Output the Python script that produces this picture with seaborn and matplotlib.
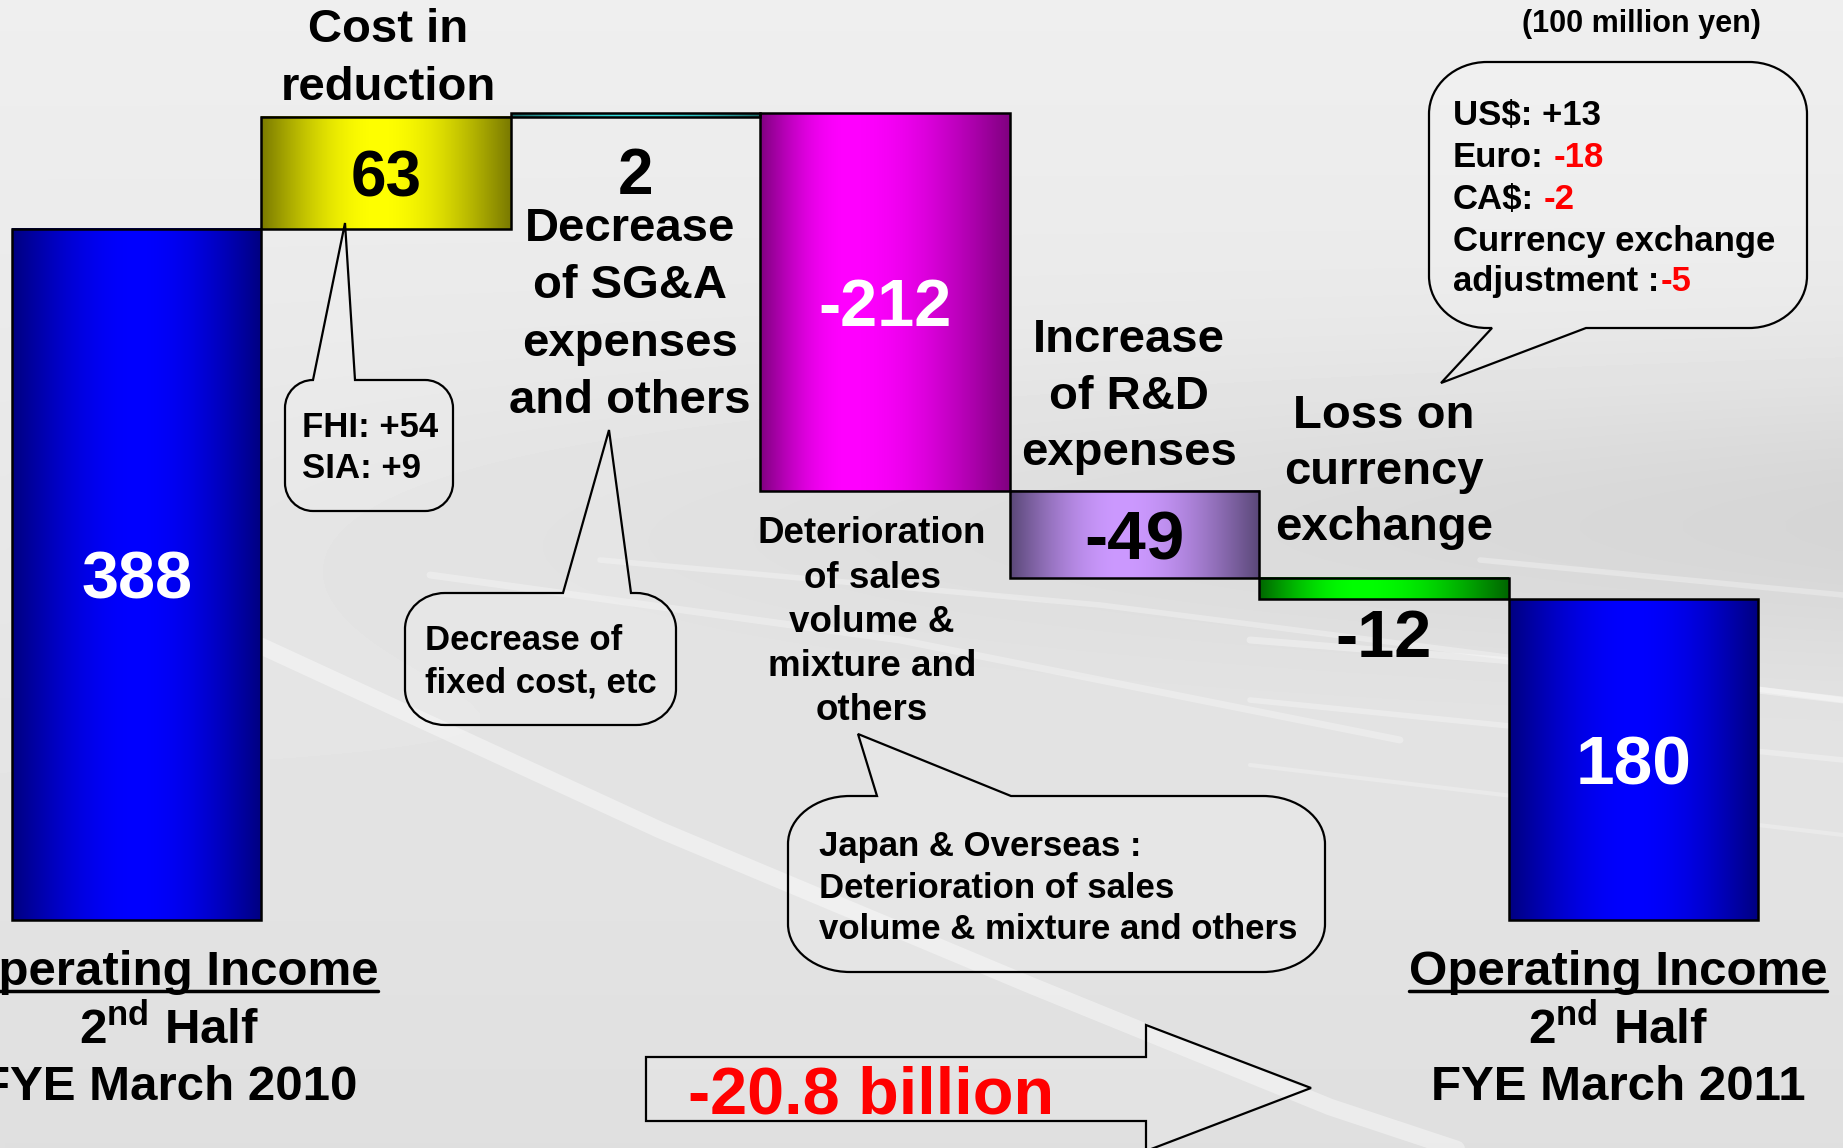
import numpy as np
import pandas as pd
import matplotlib
matplotlib.use("Agg")
import matplotlib.pyplot as plt
import matplotlib.colors as mcolors
from matplotlib.path import Path
from matplotlib.patches import PathPatch, Polygon
import seaborn as sns

# ---------------- data ----------------
steps = ["FYE March 2010", "Cost in reduction", "Decrease of SG&A expenses and others",
         "Deterioration of sales volume & mixture and others", "Increase of R&D expenses",
         "Loss on currency exchange", "FYE March 2011"]
values = [388, 63, 2, -212, -49, -12, 180]
is_total = [True, False, False, False, False, False, True]
value_labels = ["388", "63", "2", "-212", "-49", "-12", "180"]

# horizontal gradient of each bar: edge colour, centre colour, position of brightest part
bar_edge_colors = ["#000080", "#7a7a00", "#1d6b6b", "#800080", "#5a4878", "#006600", "#000080"]
bar_centre_colors = ["#0000ff", "#ffff00", "#33dddd", "#ff00ff", "#cc99ff", "#00ff00", "#0000ff"]
bar_peaks = [0.5, 0.47, 0.5, 0.35, 0.45, 0.4, 0.5]

fhi_lines = ["FHI: +54", "SIA: +9"]
fixed_cost_lines = ["Decrease of", "fixed cost, etc"]
japan_lines = ["Japan & Overseas :", "Deterioration of sales", "volume & mixture and others"]
currency_lines = [
    [("US$: +13", "black")],
    [("Euro:", "black"), ("-18", "red")],
    [("CA$:", "black"), ("-2", "red")],
    [("Currency exchange", "black")],
    [("adjustment :", "black"), ("-5", "red")],
]
total_change = "-20.8 billion"
unit_note = "(100 million yen)"

# ---------------- setup ----------------
W, H = 1843, 1148
sns.set_theme(style="white")
plt.rcParams["font.family"] = ["Liberation Sans", "DejaVu Sans"]
plt.rcParams["font.weight"] = "bold"
plt.rcParams["text.color"] = "black"
plt.rcParams["mathtext.fontset"] = "custom"
plt.rcParams["mathtext.rm"] = "Liberation Sans:bold"
plt.rcParams["mathtext.bf"] = "Liberation Sans:bold"

fig = plt.figure(figsize=(W / 100, H / 100), dpi=100)
renderer = fig.canvas.get_renderer()

# background: light grey photo-like backdrop with faint light trails
bg = fig.add_axes([0, 0, 1, 1], zorder=0)
yy, xx = np.mgrid[0:1:120j, 0:1:192j]
bg_img = 0.935 - 0.06 * yy - 0.07 * np.exp(-((yy - 0.45) / 0.13) ** 2) * xx
bg.imshow(bg_img, extent=[0, W, H, 0], aspect="auto", cmap="gray", vmin=0, vmax=1,
          interpolation="bilinear")
streaks = [
    ([261, 660, 1030, 1330, 1520], [646, 830, 985, 1107, 1170], 12, 0.4),
    ([430, 900, 1400], [575, 640, 740], 5, 0.3),
    ([600, 1100, 1843], [560, 605, 700], 4, 0.3),
    ([1250, 1500, 1843], [640, 660, 700], 5, 0.35),
    ([1250, 1500, 1843], [700, 725, 760], 4, 0.3),
    ([1480, 1843], [560, 595], 4, 0.3),
    ([1250, 1843], [765, 835], 3, 0.25),
]
for xs, ys, lw, a in streaks:
    bg.plot(xs, ys, color="white", lw=lw, alpha=a, solid_capstyle="round")
bg.set_xlim(0, W)
bg.set_ylim(H, 0)
bg.axis("off")

# ---------------- waterfall bars ----------------
bottoms = []
running = 0
for v, tot in zip(values, is_total):
    if tot:
        bottoms.append(0)
        running = v
    else:
        bottoms.append(running)
        running += v

df = pd.DataFrame({"step": steps, "value": values})
ax = fig.add_axes([0, 0, 1, 1], zorder=1)
ax.patch.set_alpha(0)
sns.barplot(data=df, x="step", y="value", order=steps, width=1.0, errorbar=None,
            bottom=bottoms, color="white", edgecolor="black", linewidth=1.8, ax=ax)


def bar_gradient(edge, centre, peak, n=256):
    t = np.linspace(0, 1, n)
    w = np.where(t < peak, t / peak, (1 - t) / (1 - peak))
    w = np.sin(w * np.pi / 2)
    e = np.array(mcolors.to_rgb(edge))
    c = np.array(mcolors.to_rgb(centre))
    return (e + (c - e) * w[:, None])[None, :, :]


for patch, e, c, p in zip(ax.patches, bar_edge_colors, bar_centre_colors, bar_peaks):
    x0, w = patch.get_x(), patch.get_width()
    y0, h = patch.get_y(), patch.get_height()
    ax.imshow(bar_gradient(e, c, p), extent=[x0, x0 + w, min(y0, y0 + h), max(y0, y0 + h)],
              aspect="auto", interpolation="bilinear", zorder=1.5)
    patch.set_facecolor("none")
    patch.set_zorder(2)

# value labels (inside the bar, or below the thin bars)
label_colors = ["white", "black", "black", "white", "black", "black", "white"]
label_sizes = [48, 46, 46, 48, 50, 48, 50]
for i, (v, b, lab) in enumerate(zip(values, bottoms, value_labels)):
    if lab == "2":
        xy, dy = (i, b + v), -46
    elif lab == "-12":
        xy, dy = (i, b + v), -29
    else:
        xy, dy = (i, b + v / 2), -5
    ax.annotate(lab, xy=xy, xytext=(0, dy), textcoords="offset points",
                ha="center", va="center", fontsize=label_sizes[i], color=label_colors[i])

ax.set_xlim(-0.548, 6.841)
ax.set_ylim(-128, 516.6)
ax.axis("off")

# ---------------- annotations (pixel coordinates) ----------------
ov = fig.add_axes([0, 0, 1, 1], zorder=3)
ov.set_xlim(0, W)
ov.set_ylim(H, 0)
ov.axis("off")


def multiline(lines, x, baselines, size, ha="center", color="black"):
    for s, y in zip(lines, baselines):
        ov.text(x, y, s, ha=ha, va="baseline", fontsize=size, color=color)


multiline(["Cost in", "reduction"], 388, [42, 100], 34)
multiline(["Decrease", "of SG&A", "expenses", "and others"], 630, [241, 298, 356, 413], 34)
multiline(["Increase", "of R&D", "expenses"], 1129, [352, 409, 465], 34)
multiline(["Loss on", "currency", "exchange"], 1384, [428, 484, 540], 34)
multiline(["Deterioration", "of sales", "volume &", "mixture and", "others"], 872,
          [543, 588, 632, 676, 720], 26.5)
ov.text(1641, 32, unit_note, ha="center", va="baseline", fontsize=22)


def callout(box, r, base, tip, side="top"):
    x0, y0, x1, y1 = box
    rx, ry = r
    k = 0.5523
    V = [(x0 + rx, y0)]
    C = [Path.MOVETO]
    if side == "top":
        V += [(base[0], y0), tip, (base[1], y0)]
        C += [Path.LINETO] * 3
    V += [(x1 - rx, y0)]
    C += [Path.LINETO]
    V += [(x1 - rx + k * rx, y0), (x1, y0 + ry - k * ry), (x1, y0 + ry)]
    C += [Path.CURVE4] * 3
    V += [(x1, y1 - ry)]
    C += [Path.LINETO]
    V += [(x1, y1 - ry + k * ry), (x1 - rx + k * rx, y1), (x1 - rx, y1)]
    C += [Path.CURVE4] * 3
    if side == "bottom":
        V += [(base[1], y1), tip, (base[0], y1)]
        C += [Path.LINETO] * 3
    V += [(x0 + rx, y1)]
    C += [Path.LINETO]
    V += [(x0 + rx - k * rx, y1), (x0, y1 - ry + k * ry), (x0, y1 - ry)]
    C += [Path.CURVE4] * 3
    V += [(x0, y0 + ry)]
    C += [Path.LINETO]
    V += [(x0, y0 + ry - k * ry), (x0 + rx - k * rx, y0), (x0 + rx, y0)]
    C += [Path.CURVE4] * 3
    V += [(x0 + rx, y0)]
    C += [Path.CLOSEPOLY]
    ov.add_patch(PathPatch(Path(V, C), facecolor=(1, 1, 1, 0.12), edgecolor="black", lw=1.6))


callout((285, 380, 453, 511), (28, 28), (313, 355), (345, 223))
multiline(fhi_lines, 302, [437, 478], 25, ha="left")

callout((405, 593, 676, 725), (40, 36), (563, 631), (609, 430))
multiline(fixed_cost_lines, 425, [650, 692], 25, ha="left")

callout((788, 796, 1325, 972), (62, 48), (877, 1011), (858, 734))
multiline(japan_lines, 819, [856, 898, 939], 25, ha="left")

callout((1429, 62, 1807, 328), (58, 52), (1492, 1586), (1441, 383), side="bottom")
space = 0.278 * 25 * 100 / 72
for parts, y in zip(currency_lines, [125, 167, 209, 251, 291]):
    x = 1453
    for s, col in parts:
        t = ov.text(x, y, s, ha="left", va="baseline", fontsize=25, color=col)
        bb = t.get_window_extent(renderer=renderer)
        x = bb.x1 + (space if s.endswith(":") and not s.endswith(" :") else 1)

# block arrow with the total change
arrow = Polygon([(646, 1057), (1146, 1057), (1146, 1025), (1311, 1088), (1146, 1151),
                 (1146, 1121), (646, 1121)], closed=True,
                facecolor=(1, 1, 1, 0.12), edgecolor="black", lw=1.6)
ov.add_patch(arrow)
ov.text(688, 1113, total_change, ha="left", va="baseline", fontsize=48, color="red")

# bottom labels
for cx, year in zip([169, 1618], ["2010", "2011"]):
    t = ov.text(cx, 985, "Operating Income", ha="center", va="baseline", fontsize=35.5)
    bb = t.get_window_extent(renderer=renderer)
    ov.plot([bb.x0, bb.x1], [991, 991], color="black", lw=2.5)
    ov.text(cx, 1044, r"2$^{\mathbf{nd}}$ Half", ha="center", va="baseline", fontsize=35.5)
    ov.text(cx, 1100, "FYE March " + year, ha="center", va="baseline", fontsize=35.5)

fig.savefig("out.png", dpi=100)
